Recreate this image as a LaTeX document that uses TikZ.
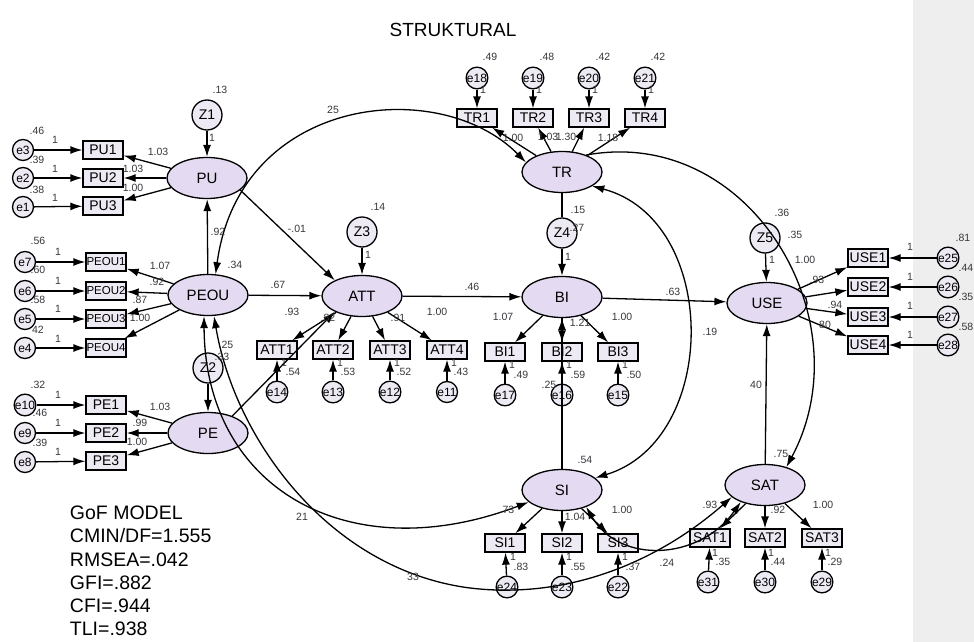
\documentclass[tikz,border=0pt]{standalone}
\usepackage{fontspec}
\setmainfont{Liberation Sans}
\usetikzlibrary{arrows.meta,shapes.geometric}
\definecolor{lav}{RGB}{228,218,241}
\definecolor{lavbox}{RGB}{237,234,244}
\definecolor{band}{RGB}{238,238,238}
\definecolor{ink}{RGB}{55,55,60}

\begin{document}
\begin{tikzpicture}[x=1pt,y=-1pt,line width=1.3pt,
  latent/.style={ellipse,draw,fill=lav,minimum width=80pt,minimum height=41pt,inner sep=0pt,font=\fontsize{15}{15}\selectfont},
  obs/.style={rectangle,draw,fill=lavbox,minimum width=40pt,minimum height=18pt,inner sep=0pt,font=\fontsize{14}{14}\selectfont},
  obsn/.style={obs,font=\fontsize{11.5}{11.5}\selectfont},
  err/.style={circle,draw,fill=lavbox,minimum size=21pt,inner sep=0pt,font=\fontsize{12}{12}\selectfont},
  dist/.style={circle,draw,fill=lavbox,minimum size=30pt,inner sep=0pt,font=\fontsize{14}{14}\selectfont},
  lbl/.style={inner sep=0pt,text=ink,font=\fontsize{10.5}{10.5}\selectfont},
  reg/.style={-{Latex[length=12pt,width=8pt]}},
  cov/.style={{Latex[length=12pt,width=8pt]}-{Latex[length=12pt,width=8pt]}}]
\useasboundingbox (0,0) rectangle (974,642);
\fill[band] (913,0) rectangle (974,642);

\node[font=\fontsize{19}{19}\selectfont] (title) at (453,30) {STRUKTURAL};
\node[align=left,anchor=west,font=\fontsize{19.5}{23.2}\selectfont] (gof) at (66,571)
  {GoF MODEL\\CMIN/DF=1.555\\RMSEA=.042\\GFI=.882\\CFI=.944\\TLI=.938};

% latent variables
\node[latent] (PU) at (207,178) {PU};
\node[latent] (PEOU) at (208,295) {PEOU};
\node[latent] (PE) at (208,433) {PE};
\node[latent] (ATT) at (362,296) {ATT};
\node[latent] (TR) at (562,172) {TR};
\node[latent] (BI) at (562,297) {BI};
\node[latent] (SI) at (562,490) {SI};
\node[latent] (USE) at (767,303) {USE};
\node[latent] (SAT) at (765,485) {SAT};

% disturbances
\node[dist] (Z1) at (207,115) {Z1};
\node[dist] (Z2) at (208,368) {Z2};
\node[dist] (Z3) at (362,232) {Z3};
\node[dist] (Z4) at (562,233) {Z4};
\node[dist] (Z5) at (765,238) {Z5};

% indicators
\node[obs] (PU1) at (103,150) {PU1};
\node[obs] (PU2) at (103,178) {PU2};
\node[obs] (PU3) at (103,206) {PU3};
\node[obsn] (PEOU1) at (106,262) {PEOU1};
\node[obsn] (PEOU2) at (106,291) {PEOU2};
\node[obsn] (PEOU3) at (106,319) {PEOU3};
\node[obsn] (PEOU4) at (106,348) {PEOU4};
\node[obs] (PE1) at (106,405) {PE1};
\node[obs] (PE2) at (106,433) {PE2};
\node[obs] (PE3) at (106,461) {PE3};
\node[obs] (ATT1) at (277,350) {ATT1};
\node[obs] (ATT2) at (333,350) {ATT2};
\node[obs] (ATT3) at (390,350) {ATT3};
\node[obs] (ATT4) at (447,350) {ATT4};
\node[obs] (BI1) at (505,352) {BI1};
\node[obs] (BI2) at (562,352) {BI2};
\node[obs] (BI3) at (618,352) {BI3};
\node[obs] (TR1) at (477,118) {TR1};
\node[obs] (TR2) at (533,118) {TR2};
\node[obs] (TR3) at (589,118) {TR3};
\node[obs] (TR4) at (645,118) {TR4};
\node[obs] (USE1) at (868,258) {USE1};
\node[obs] (USE2) at (868,287) {USE2};
\node[obs] (USE3) at (868,317) {USE3};
\node[obs] (USE4) at (868,345) {USE4};
\node[obs] (SI1) at (505,543) {SI1};
\node[obs] (SI2) at (562,543) {SI2};
\node[obs] (SI3) at (618,543) {SI3};
\node[obs] (SAT1) at (710,538) {SAT1};
\node[obs] (SAT2) at (765,538) {SAT2};
\node[obs] (SAT3) at (822,538) {SAT3};

% error terms
\node[err] (e3) at (23,150) {e3};
\node[err] (e2) at (23,178) {e2};
\node[err] (e1) at (23,207) {e1};
\node[err] (e7) at (25,262) {e7};
\node[err] (e6) at (25,291) {e6};
\node[err] (e5) at (25,319) {e5};
\node[err] (e4) at (25,348) {e4};
\node[err] (e10) at (25,405) {e10};
\node[err] (e9) at (25,433) {e9};
\node[err] (e8) at (25,462) {e8};
\node[err] (e14) at (277,392) {e14};
\node[err] (e13) at (333,392) {e13};
\node[err] (e12) at (390,392) {e12};
\node[err] (e11) at (447,392) {e11};
\node[err] (e17) at (505,395) {e17};
\node[err] (e16) at (562,395) {e16};
\node[err] (e15) at (618,395) {e15};
\node[err] (e18) at (477,78) {e18};
\node[err] (e19) at (533,78) {e19};
\node[err] (e20) at (589,78) {e20};
\node[err] (e21) at (645,78) {e21};
\node[err] (e25) at (948,258) {e25};
\node[err] (e26) at (948,287) {e26};
\node[err] (e27) at (948,317) {e27};
\node[err] (e28) at (948,345) {e28};
\node[err] (e24) at (507,587) {e24};
\node[err] (e23) at (562,587) {e23};
\node[err] (e22) at (618,587) {e22};
\node[err] (e31) at (708,582) {e31};
\node[err] (e30) at (765,582) {e30};
\node[err] (e29) at (822,582) {e29};

% measurement arrows
\draw[reg] (e3) -- (PU1);
\draw[reg] (e2) -- (PU2);
\draw[reg] (e1) -- (PU3);
\draw[reg] (PU) -- (PU1);
\draw[reg] (PU) -- (PU2);
\draw[reg] (PU) -- (PU3);
\draw[reg] (e7) -- (PEOU1);
\draw[reg] (e6) -- (PEOU2);
\draw[reg] (e5) -- (PEOU3);
\draw[reg] (e4) -- (PEOU4);
\draw[reg] (PEOU) -- (PEOU1);
\draw[reg] (PEOU) -- (PEOU2);
\draw[reg] (PEOU) -- (PEOU3);
\draw[reg] (PEOU) -- (PEOU4);
\draw[reg] (e10) -- (PE1);
\draw[reg] (e9) -- (PE2);
\draw[reg] (e8) -- (PE3);
\draw[reg] (PE) -- (PE1);
\draw[reg] (PE) -- (PE2);
\draw[reg] (PE) -- (PE3);
\draw[reg] (ATT) -- (ATT1);
\draw[reg] (ATT) -- (ATT2);
\draw[reg] (ATT) -- (ATT3);
\draw[reg] (ATT) -- (ATT4);
\draw[reg] (e14) -- (ATT1);
\draw[reg] (e13) -- (ATT2);
\draw[reg] (e12) -- (ATT3);
\draw[reg] (e11) -- (ATT4);
\draw[reg] (BI) -- (BI1);
\draw[reg] (BI) -- (BI2);
\draw[reg] (BI) -- (BI3);
\draw[reg] (e17) -- (BI1);
\draw[reg] (e16) -- (BI2);
\draw[reg] (e15) -- (BI3);
\draw[reg] (TR) -- (TR1);
\draw[reg] (TR) -- (TR2);
\draw[reg] (TR) -- (TR3);
\draw[reg] (TR) -- (TR4);
\draw[reg] (e18) -- (TR1);
\draw[reg] (e19) -- (TR2);
\draw[reg] (e20) -- (TR3);
\draw[reg] (e21) -- (TR4);
\draw[reg] (USE) -- (USE1);
\draw[reg] (USE) -- (USE2);
\draw[reg] (USE) -- (USE3);
\draw[reg] (USE) -- (USE4);
\draw[reg] (e25) -- (USE1);
\draw[reg] (e26) -- (USE2);
\draw[reg] (e27) -- (USE3);
\draw[reg] (e28) -- (USE4);
\draw[reg] (SI) -- (SI1);
\draw[reg] (SI) -- (SI2);
\draw[reg] (SI) -- (SI3);
\draw[reg] (e24) -- (SI1);
\draw[reg] (e23) -- (SI2);
\draw[reg] (e22) -- (SI3);
\draw[reg] (SAT) -- (SAT1);
\draw[reg] (SAT) -- (SAT2);
\draw[reg] (SAT) -- (SAT3);
\draw[reg] (e31) -- (SAT1);
\draw[reg] (e30) -- (SAT2);
\draw[reg] (e29) -- (SAT3);

% structural part
\draw[reg] (Z1) -- (PU);
\draw[reg] (Z2) -- (PE);
\draw[reg] (Z3) -- (ATT);
\draw[reg] (Z4) -- (BI);
\draw[reg] (Z5) -- (USE);
\draw[reg] (PEOU) -- (PU);
\draw[reg] (PU.-20) -- (ATT.150);
\draw[reg] (PEOU) -- (ATT);
\draw[reg] (PE.35) -- (ATT.210);
\draw[reg] (ATT) -- (BI);
\draw[reg] (BI) -- (USE);
\draw (TR) -- (Z4);
\draw[reg] (SI) -- (BI);
\draw[reg] (SAT) -- (USE);
\draw[cov] (PEOU.70) .. controls (240,95) and (440,75) .. (TR.165);
\draw[reg] (TR.35) .. controls (750,125) and (865,320) .. (SAT.40);
\draw[cov] (TR.-25) .. controls (720,220) and (720,440) .. (SI.20);
\draw[cov] ([xshift=-4pt]PEOU.south) .. controls (205,490) and (350,570) .. (SI.200);
\draw[cov] ([xshift=6pt]PEOU.south) .. controls (235,440) and (330,570) .. (470,588)
  .. controls (570,600) and (660,560) .. (SAT.200);
\draw[cov] (SI.-35) .. controls (620,565) and (700,560) .. (SAT.215);

% variances
\node[lbl] (ve3) at (37,131) {.46};
\node[lbl] (ve2) at (37,160) {.39};
\node[lbl] (ve1) at (37,190) {.38};
\node[lbl] (ve7) at (38,241) {.56};
\node[lbl] (ve6) at (38,270) {.60};
\node[lbl] (ve5) at (38,300) {.58};
\node[lbl] (ve4) at (38,330) {42};
\node[lbl] (ve10) at (38,385) {.32};
\node[lbl] (ve9) at (40,413) {.46};
\node[lbl] (ve8) at (40,443) {.39};
\node[lbl] (ve14) at (293,372) {.54};
\node[lbl] (ve13) at (348,372) {.53};
\node[lbl] (ve12) at (404,372) {.52};
\node[lbl] (ve11) at (461,372) {.43};
\node[lbl] (ve17) at (521,375) {.49};
\node[lbl] (ve16) at (578,375) {.59};
\node[lbl] (ve15) at (634,375) {.50};
\node[lbl] (ve18) at (490,57) {.49};
\node[lbl] (ve19) at (547,57) {.48};
\node[lbl] (ve20) at (603,57) {.42};
\node[lbl] (ve21) at (658,57) {.42};
\node[lbl] (ve25) at (963,238) {.81};
\node[lbl] (ve26) at (966,268) {.44};
\node[lbl] (ve27) at (966,297) {.35};
\node[lbl] (ve28) at (966,327) {.58};
\node[lbl] (ve24) at (521,567) {.83};
\node[lbl] (ve23) at (578,567) {.55};
\node[lbl] (ve22) at (633,567) {.37};
\node[lbl] (ve31) at (723,562) {.35};
\node[lbl] (ve30) at (778,562) {.44};
\node[lbl] (ve29) at (835,562) {.29};
\node[lbl] (vZ1) at (220,90) {.13};
\node[lbl] (vZ3) at (378,207) {.14};
\node[lbl] (vZ4) at (577,228) {.27};
\node[lbl] (vZ5) at (782,213) {.36};

% fixed weights
\node[lbl] (oe3) at (55,140) {1};
\node[lbl] (oe2) at (55,169) {1};
\node[lbl] (oe1) at (55,198) {1};
\node[lbl] (oe7) at (58,252) {1};
\node[lbl] (oe6) at (58,281) {1};
\node[lbl] (oe5) at (58,309) {1};
\node[lbl] (oe4) at (58,339) {1};
\node[lbl] (oe10) at (58,395) {1};
\node[lbl] (oe9) at (58,423) {1};
\node[lbl] (oe8) at (58,452) {1};
\node[lbl] (oe14) at (284,363) {1};
\node[lbl] (oe13) at (340,363) {1};
\node[lbl] (oe12) at (397,363) {1};
\node[lbl] (oe11) at (454,363) {1};
\node[lbl] (oe17) at (512,365) {1};
\node[lbl] (oe16) at (569,365) {1};
\node[lbl] (oe15) at (625,365) {1};
\node[lbl] (oe18) at (483,90) {1};
\node[lbl] (oe19) at (539,90) {1};
\node[lbl] (oe20) at (595,90) {1};
\node[lbl] (oe21) at (651,90) {1};
\node[lbl] (oe25) at (910,247) {1};
\node[lbl] (oe26) at (910,277) {1};
\node[lbl] (oe27) at (910,306) {1};
\node[lbl] (oe28) at (910,335) {1};
\node[lbl] (oe24) at (513,557) {1};
\node[lbl] (oe23) at (569,557) {1};
\node[lbl] (oe22) at (625,557) {1};
\node[lbl] (oe31) at (715,553) {1};
\node[lbl] (oe30) at (771,553) {1};
\node[lbl] (oe29) at (828,553) {1};
\node[lbl] (oZ1) at (212,138) {1};
\node[lbl] (oZ3) at (368,255) {1};
\node[lbl] (oZ4) at (568,257) {1};
\node[lbl] (oZ5) at (772,260) {1};

% loadings
\node[lbl] (wPU1) at (158,152) {1.03};
\node[lbl] (wPU2) at (133,169) {1.03};
\node[lbl] (wPU3) at (133,188) {1.00};
\node[lbl] (wPEOU1) at (160,266) {1.07};
\node[lbl] (wPEOU2) at (157,282) {.92};
\node[lbl] (wPEOU3) at (140,300) {.87};
\node[lbl] (wPEOU4) at (140,318) {1.00};
\node[lbl] (wPE1) at (160,407) {1.03};
\node[lbl] (wPE2) at (140,423) {.99};
\node[lbl] (wPE3) at (137,442) {1.00};
\node[lbl] (wATT1) at (292,312) {.93};
\node[lbl] (wATT2) at (328,318) {.82};
\node[lbl] (wATT3) at (398,318) {.91};
\node[lbl] (wATT4) at (437,312) {1.00};
\node[lbl] (wBI1) at (503,317) {1.07};
\node[lbl] (wBI2) at (580,323) {1.21};
\node[lbl] (wBI3) at (622,317) {1.00};
\node[lbl] (wTR1) at (513,138) {1.00};
\node[lbl] (wTR2) at (548,137) {1.03};
\node[lbl] (wTR3) at (566,137) {1.30};
\node[lbl] (wTR4) at (608,138) {1.18};
\node[lbl] (wUSE1) at (805,260) {1.00};
\node[lbl] (wUSE2) at (817,280) {.93};
\node[lbl] (wUSE3) at (835,305) {.94};
\node[lbl] (wUSE4) at (825,325) {80};
\node[lbl] (wSI1) at (507,510) {.73};
\node[lbl] (wSI2) at (575,517) {1.04};
\node[lbl] (wSI3) at (622,510) {1.00};
\node[lbl] (wSAT1) at (710,505) {.93};
\node[lbl] (wSAT2) at (778,510) {.92};
\node[lbl] (wSAT3) at (823,505) {1.00};

% structural estimates
\node[lbl] (bPEOUPU) at (218,232) {.92};
\node[lbl] (bPUATT) at (297,229) {-.01};
\node[lbl] (bPEOUATT) at (278,285) {.67};
\node[lbl] (bATTBI) at (472,287) {.46};
\node[lbl] (bBIUSE) at (673,292) {.63};
\node[lbl] (bTRBI) at (578,210) {.15};
\node[lbl] (bSIBI) at (549,385) {.25};
\node[lbl] (bSATUSE) at (756,385) {40};
\node[lbl] (bTRSAT) at (795,235) {.35};
\node[lbl] (bPEPEOU) at (226,345) {.25};
\node[lbl] (bPEOUPE) at (222,357) {.33};
\node[lbl] (rPEOU) at (235,265) {.34};
\node[lbl] (rSI) at (585,460) {.54};
\node[lbl] (rSAT) at (781,454) {.75};
\node[lbl] (cPEOUTR) at (333,110) {25};
\node[lbl] (cTRSI) at (710,332) {.19};
\node[lbl] (cPESI) at (302,517) {21};
\node[lbl] (cPEOUSAT) at (413,577) {33};
\node[lbl] (cSISAT) at (667,563) {.24};
\end{tikzpicture}
\end{document}
